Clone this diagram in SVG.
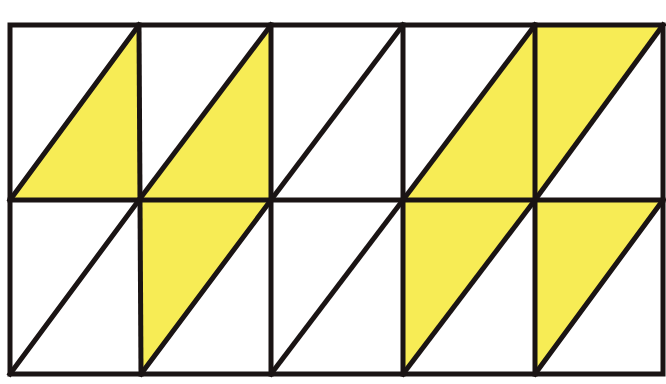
<svg xmlns="http://www.w3.org/2000/svg" width="666" height="384" viewBox="0 0 666 384">
<style>
.y{fill:#f7ec55;stroke:none}
.l{stroke:#1a1414;stroke-width:5;fill:none;stroke-linecap:square}
</style>
<rect width="666" height="384" fill="#ffffff"/>
<g id="fills">
<polygon class="y" points="10,200 139,25 139,200"/>
<polygon class="y" points="139,200 271,25 271,200"/>
<polygon class="y" points="403,200 535,25 535,200"/>
<polygon class="y" points="535,200 535,25 663,25"/>
<polygon class="y" points="139,200 271,200 139,374"/>
<polygon class="y" points="403,200 535,200 403,374"/>
<polygon class="y" points="535,200 663,200 535,374"/>
</g>
<g id="connectors" class="l">
<rect x="10" y="25" width="653" height="349"/>
<line x1="10" y1="200" x2="663" y2="200"/>
<line x1="139" y1="25" x2="141" y2="374"/>
<line x1="271" y1="25" x2="271" y2="374"/>
<line x1="403" y1="25" x2="403" y2="374"/>
<line x1="535" y1="25" x2="535" y2="374"/>
<line x1="10" y1="200" x2="139" y2="25"/>
<line x1="139" y1="200" x2="271" y2="25"/>
<line x1="271" y1="200" x2="403" y2="25"/>
<line x1="403" y1="200" x2="535" y2="25"/>
<line x1="535" y1="200" x2="663" y2="25"/>
<line x1="10" y1="374" x2="139" y2="200"/>
<line x1="141" y1="374" x2="271" y2="200"/>
<line x1="271" y1="374" x2="403" y2="200"/>
<line x1="403" y1="374" x2="535" y2="200"/>
<line x1="535" y1="374" x2="663" y2="200"/>
</g>
</svg>
